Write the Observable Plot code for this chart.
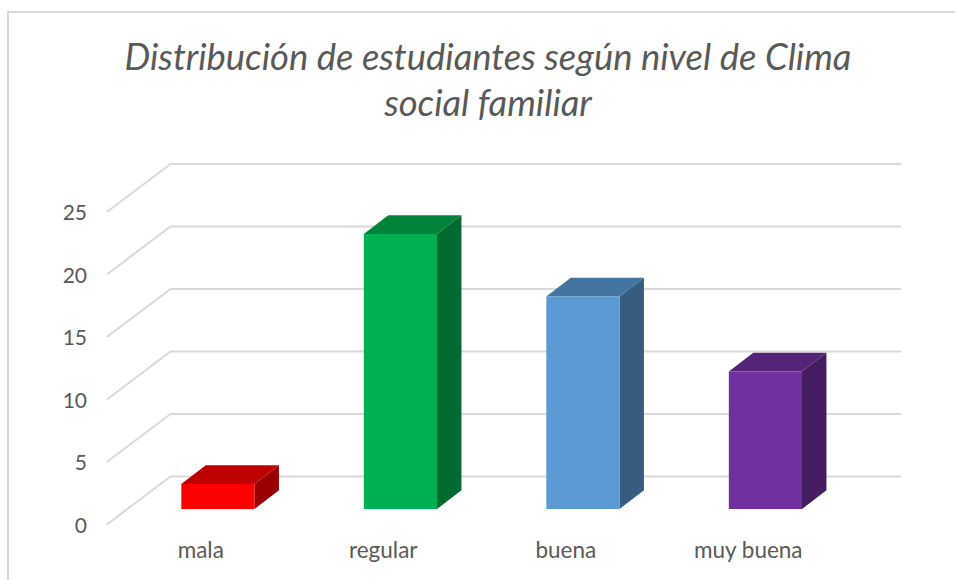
<!DOCTYPE html>
<html lang="es">
<head>
<meta charset="utf-8">
<script src="https://cdn.jsdelivr.net/npm/d3@7"></script>
<script src="https://cdn.jsdelivr.net/npm/@observablehq/plot@0.6"></script>
<style>
  html, body { margin: 0; padding: 0; background: #fff; }
  #frame { position: absolute; left: 7px; top: 11px; width: 948px; height: 569px; border-left: 2px solid #d9d9d9; border-top: 2px solid #d9d9d9; box-sizing: border-box; }
  #title { position: absolute; left: 0; top: 0; width: 955px; height: 140px; box-sizing: border-box; padding: 0 0 0 21px; text-align: center; font: italic 36.4px/46px Lato, sans-serif; color: #595959; }
  #title div:first-child { margin-top: 33px; }
  #chart { position: absolute; left: 0; top: 140px; }
  svg { display: block; overflow: visible; }
</style>
</head>
<body>
<div id="frame"></div>
<div id="title"><div>Distribución de estudiantes según nivel de Clima</div><div>social familiar</div></div>
<div id="chart"></div>
<script>
const categories = ["mala", "regular", "buena", "muy buena"];
const values = [2, 22, 17, 11];
const frontColors = ["#ff0000", "#00b050", "#5b9bd5", "#7030a0"];
const topColors = ["#bf0000", "#00843c", "#4475a0", "#542478"];
const sideColors = ["#990000", "#006a30", "#365d80", "#431d60"];
const yTicks = [0, 5, 10, 15, 20, 25];

// depth of the 3D box, in scale units
const wallDx = -0.345, wallDy = -3.8;   // back wall to front edge of the floor
const barBase = -2.64, barLeft = 0.062, barWidth = 0.401;
const depthX = 0.134, depthY = 1.5;

const bars = categories.map((name, i) => ({
  name, value: values[i],
  x1: i + barLeft, x2: i + barLeft + barWidth,
  y1: barBase, y2: barBase + values[i],
  front: frontColors[i], top: topColors[i], side: sideColors[i]
}));
const grid = yTicks.flatMap(t => [
  {t, x: wallDx, y: t + wallDy},
  {t, x: 0, y: t},
  {t, x: categories.length, y: t}
]);
const tops = bars.flatMap(b => [
  {name: b.name, fill: b.top, y: b.y2, x1: b.x1, x2: b.x2},
  {name: b.name, fill: b.top, y: b.y2 + depthY, x1: b.x1 + depthX, x2: b.x2 + depthX}
]);
const sides = bars.flatMap(b => [
  {name: b.name, fill: b.side, x: b.x2, y1: b.y1, y2: b.y2},
  {name: b.name, fill: b.side, x: b.x2 + depthX, y1: b.y1 + depthY, y2: b.y2 + depthY}
]);

const chart = Plot.plot({
  width: 955, height: 440,
  marginLeft: 170, marginRight: 55, marginTop: 23.5, marginBottom: 104,
  style: {fontFamily: "Lato, sans-serif", background: "transparent", overflow: "visible"},
  x: {domain: [0, categories.length], axis: null},
  y: {domain: [0, 25], axis: null},
  marks: [
    Plot.line(grid, {x: "x", y: "y", z: "t", stroke: "#d9d9d9", strokeWidth: 2, curve: "linear"}),
    Plot.areaY(sides, {x: "x", y1: "y1", y2: "y2", z: "name", fill: "fill"}),
    Plot.areaX(tops, {y: "y", x1: "x1", x2: "x2", z: "name", fill: "fill"}),
    Plot.rect(bars, {x1: "x1", x2: "x2", y1: "y1", y2: "y2", fill: "front", inset: 0}),
    Plot.axisY(yTicks, {
      anchor: "left", tickSize: 0, tickPadding: 83.5, dy: 49.5,
      fontSize: 21, fill: "#595959", tickFormat: d => d, label: null
    }),
    Plot.axisX(categories.map((_, i) => i + 0.5), {
      anchor: "bottom", tickSize: 0, tickPadding: 66, dx: -61,
      fontSize: 22.5, fill: "#595959", tickFormat: d => categories[d - 0.5], label: null
    })
  ]
});
document.getElementById("chart").append(chart);
</script>
</body>
</html>
